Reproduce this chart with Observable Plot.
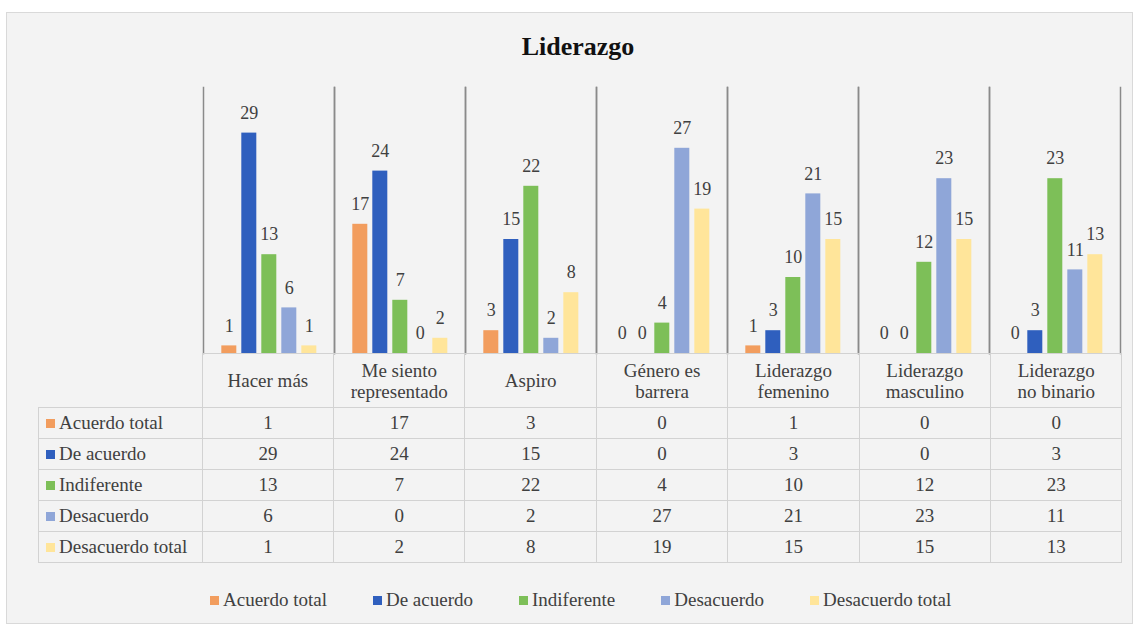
<!DOCTYPE html>
<html>
<head>
<meta charset="utf-8">
<script src="https://cdn.jsdelivr.net/npm/d3@7"></script>
<script src="https://cdn.jsdelivr.net/npm/@observablehq/plot@0.6"></script>
<style>
  body { margin: 0; background: #ffffff; font-family: "Liberation Serif", "Times New Roman", serif; }
  #panel { position: absolute; left: 6px; top: 12px; width: 1125px; height: 610px; background: #f3f3f3; border: 1px solid #d9d9d9; }
  #title { position: absolute; left: 0; width: 1156px; top: 30px; line-height: 34px; text-align: center; font-weight: bold; font-size: 26px; color: #111; }
  #chart { position: absolute; left: 0; top: 60px; }
  #tbl { position: absolute; left: 38px; top: 353px; border-collapse: collapse; table-layout: fixed; width: 1083.5px; }
  #tbl td { border: 1px solid #d2d2d2; padding: 0; text-align: center; font-size: 19px; color: #404040; white-space: pre-line; }
  #tbl tr.hdr td { height: 53px; line-height: 21px; }
  #tbl tr.row td { height: 30px; line-height: 20px; }
  #tbl td.blank { border-top: none; border-left: none; }
  #tbl td.lab { text-align: left; padding-left: 7px; white-space: nowrap; }
  .key { display: inline-block; width: 9px; height: 9px; margin-right: 4px; vertical-align: 1px; }
  #legend { position: absolute; left: 210px; top: 588px; display: flex; gap: 46px; font-size: 19px; color: #404040; line-height: 24px; white-space: nowrap; }
</style>
</head>
<body>
<div id="panel"></div>
<div id="title">Liderazgo</div>
<div id="chart"></div>
<table id="tbl"></table>
<div id="legend"></div>
<script>
// ---- data ----
const categories = ["Hacer más", "Me siento representado", "Aspiro", "Género es barrera", "Liderazgo femenino", "Liderazgo masculino", "Liderazgo no binario"];
const categoryLabels = ["Hacer más", "Me siento\nrepresentado", "Aspiro", "Género es\nbarrera", "Liderazgo\nfemenino", "Liderazgo\nmasculino", "Liderazgo\nno binario"];
const series = ["Acuerdo total", "De acuerdo", "Indiferente", "Desacuerdo", "Desacuerdo total"];
const acuerdoTotal    = [1, 17, 3, 0, 1, 0, 0];
const deAcuerdo       = [29, 24, 15, 0, 3, 0, 3];
const indiferente     = [13, 7, 22, 4, 10, 12, 23];
const desacuerdo      = [6, 0, 2, 27, 21, 23, 11];
const desacuerdoTotal = [1, 2, 8, 19, 15, 15, 13];
const seriesColors = ["#f29d5e", "#2f5fbe", "#7dbf58", "#8fa6d8", "#ffe59a"];

const seriesValues = [acuerdoTotal, deAcuerdo, indiferente, desacuerdo, desacuerdoTotal];
const data = [];
series.forEach((s, si) => categories.forEach((c, ci) => data.push({category: c, series: s, value: seriesValues[si][ci]})));

// ---- chart ----
const chart = Plot.plot({
  width: 1139,
  height: 300,
  marginLeft: 201.7,
  marginRight: 1139 - 1121.5,
  marginTop: 27,
  marginBottom: 7,
  style: {background: "transparent", fontFamily: "'Liberation Serif', 'Times New Roman', serif"},
  fx: {domain: categories, padding: 0, axis: null},
  x: {domain: series, paddingInner: 0.254, paddingOuter: 0.83, axis: null},
  y: {domain: [0, 35], axis: null},
  color: {domain: series, range: seriesColors},
  marks: [
    Plot.frame({anchor: "left", stroke: "#8a8a8a", strokeWidth: 1.5}),
    Plot.frame({anchor: "right", stroke: "#8a8a8a", strokeWidth: 1.5}),
    Plot.ruleY([0], {stroke: "#d2d2d2"}),
    Plot.barY(data, {fx: "category", x: "series", y: "value", fill: "series"}),
    Plot.text(data, {fx: "category", x: "series", y: "value", text: d => String(d.value), dy: -20, fontSize: 18, fill: "#404040"})
  ]
});
document.getElementById("chart").appendChild(chart);

// ---- table ----
const tbl = d3.select("#tbl");
const cg = tbl.append("colgroup");
cg.append("col").style("width", "163.7px");
categories.forEach(() => cg.append("col").style("width", "131.4px"));
const hdr = tbl.append("tr").attr("class", "hdr");
hdr.append("td").attr("class", "blank");
hdr.selectAll("td.c").data(categoryLabels).join("td").attr("class", "c").text(d => d);
series.forEach((s, si) => {
  const tr = tbl.append("tr").attr("class", "row");
  const lab = tr.append("td").attr("class", "lab");
  lab.append("span").attr("class", "key").style("background", seriesColors[si]);
  lab.append("span").text(s);
  tr.selectAll("td.v").data(seriesValues[si]).join("td").attr("class", "v").text(d => d);
});

// ---- legend ----
const lg = d3.select("#legend").selectAll("div").data(series).join("div");
lg.append("span").attr("class", "key").style("background", (d, i) => seriesColors[i]);
lg.append("span").text(d => d);
</script>
</body>
</html>
